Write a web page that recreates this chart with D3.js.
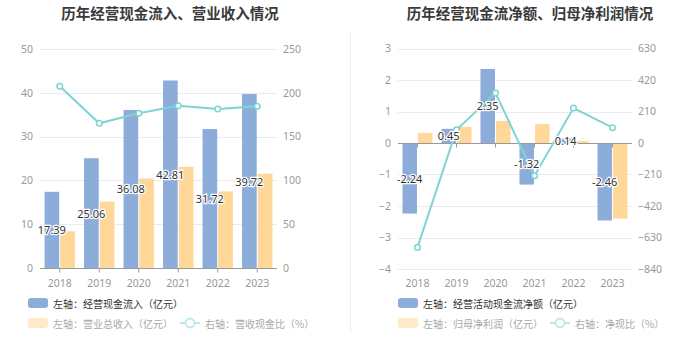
<!DOCTYPE html>
<html><head><meta charset="utf-8">
<script src="https://cdn.jsdelivr.net/npm/d3@7/dist/d3.min.js"></script>
<style>
body{margin:0;background:#fff}
svg{font-family:"Noto Sans CJK SC","Noto Sans",sans-serif;display:block}
</style>
</head><body>
<svg id="c" width="700" height="359"></svg>
<script>
// ---- data ----
const years = ["2018", "2019", "2020", "2021", "2022", "2023"];
const cashInflow = [17.39, 25.06, 36.08, 42.81, 31.72, 39.72];
const revenue = [8.38, 15.17, 20.43, 23.10, 17.48, 21.52];
const cashRevenueRatio = [207.5, 165.2, 176.6, 185.3, 181.5, 184.6];
const netCashFlow = [-2.24, 0.45, 2.35, -1.32, 0.14, -2.46];
const netProfit = [0.32, 0.51, 0.70, 0.60, 0.06, -2.40];
const cashProfitRatio = [-696, 88.7, 333, -218, 233, 102];
const leftTicks1 = [0, 10, 20, 30, 40, 50];
const rightTicks1 = [0, 50, 100, 150, 200, 250];
const leftTicks2 = [-4, -3, -2, -1, 0, 1, 2, 3];
const rightTicks2 = [-840, -630, -420, -210, 0, 210, 420, 630];
const titles = ["历年经营现金流入、营业收入情况", "历年经营现金流净额、归母净利润情况"];
const legend1 = ["左轴：经营现金流入（亿元）", "左轴：营业总收入（亿元）", "右轴：营收现金比（%）"];
const legend2 = ["左轴：经营活动现金流净额（亿元）", "左轴：归母净利润（亿元）", "右轴：净现比（%）"];

const BLUE = "#8cacda", YEL = "#ffd899", TEAL = "#7ed4d4";
const svg = d3.select("#c");

svg.append("line").attr("x1", 350.5).attr("x2", 350.5).attr("y1", 33).attr("y2", 333)
  .attr("stroke", "#eeeeee");

function panel(cfg) {
  const g = svg.append("g");
  const x = d3.scaleBand().domain(years).range([cfg.x0, cfg.x1]);
  const x1 = d3.scaleBand().domain([0, 1]).range([x.bandwidth() * 0.115, x.bandwidth() * 0.885]).paddingInner(0.07);
  const yL = d3.scaleLinear().domain(cfg.ldom).range([cfg.yb, cfg.yt]);
  const yR = d3.scaleLinear().domain(cfg.rdom).range([cfg.yb, cfg.yt]);

  // title
  g.append("text").attr("x", cfg.tx).attr("y", 12).attr("text-anchor", "middle")
    .attr("dominant-baseline", "central").attr("font-size", 14.5).attr("font-weight", "bold")
    .attr("fill", "#3a3a3a").text(cfg.title);

  // grid
  g.selectAll(".grid").data(cfg.lt).join("line")
    .attr("x1", cfg.x0).attr("x2", cfg.x1)
    .attr("y1", d => Math.round(yL(d)) + 0.5).attr("y2", d => Math.round(yL(d)) + 0.5)
    .attr("stroke", "#e6ebf4").attr("stroke-width", 1);

  // left axis
  const la = g.append("g").attr("transform", `translate(${cfg.x0},0)`)
    .call(d3.axisLeft(yL).tickValues(cfg.lt).tickSize(0).tickPadding(7).tickFormat(d3.format("d")));
  la.select(".domain").remove();
  la.selectAll("text").attr("fill", "#999").attr("font-size", 10.5).attr("font-family", "'Noto Sans',sans-serif");
  const ra = g.append("g").attr("transform", `translate(${cfg.x1},0)`)
    .call(d3.axisRight(yR).tickValues(cfg.rt).tickSize(0).tickPadding(6).tickFormat(d3.format("d")));
  ra.select(".domain").remove();
  ra.selectAll("text").attr("fill", "#999").attr("font-size", 10.5).attr("font-family", "'Noto Sans',sans-serif");

  // bars
  const bars = g.append("g");
  cfg.s1.forEach((v, i) => {
    bars.append("rect").attr("x", x(years[i]) + x1(0)).attr("width", x1.bandwidth())
      .attr("y", Math.min(yL(v), yL(0))).attr("height", Math.abs(yL(v) - yL(0))).attr("fill", BLUE);
  });
  cfg.s2.forEach((v, i) => {
    bars.append("rect").attr("x", x(years[i]) + x1(1)).attr("width", x1.bandwidth())
      .attr("y", Math.min(yL(v), yL(0))).attr("height", Math.abs(yL(v) - yL(0))).attr("fill", YEL);
  });

  // x axis line at zero
  const xa = g.append("g").attr("transform", `translate(0,${Math.round(yL(0)) + 0.5})`)
    .call(d3.axisBottom(x).tickSize(4).tickSizeOuter(0).tickFormat(""));
  xa.select(".domain").attr("stroke", "#999").attr("d", `M${cfg.x0},0H${cfg.x1}`);
  xa.selectAll(".tick line").attr("stroke", "#999");
  // x labels at bottom
  g.selectAll(".xl").data(years).join("text")
    .attr("x", d => x(d) + x.bandwidth() / 2).attr("y", 283)
    .attr("text-anchor", "middle").attr("dominant-baseline", "central")
    .attr("font-size", 10.5).attr("fill", "#999").attr("font-family", "'Noto Sans',sans-serif").text(d => d);

  // line
  const cx = i => x(years[i]) + x.bandwidth() / 2;
  g.append("path").datum(cfg.s3)
    .attr("d", d3.line().x((d, i) => cx(i)).y(d => yR(d)))
    .attr("fill", "none").attr("stroke", TEAL).attr("stroke-width", 2);
  g.selectAll(".pt").data(cfg.s3).join("circle")
    .attr("cx", (d, i) => cx(i)).attr("cy", d => yR(d)).attr("r", 2.8)
    .attr("fill", "#fff").attr("stroke", TEAL).attr("stroke-width", 1.5);

  // labels
  g.selectAll(".lab").data(cfg.s1).join("text")
    .attr("x", (d, i) => x(years[i]) + x1(0) + x1.bandwidth() / 2)
    .attr("y", d => (yL(d) + yL(0)) / 2)
    .attr("text-anchor", "middle").attr("dominant-baseline", "central")
    .attr("font-size", 11).attr("fill", "#333").attr("font-family", "'Noto Sans',sans-serif")
    .attr("stroke", "#fff").attr("stroke-width", 2.5).attr("paint-order", "stroke")
    .text(d => d.toFixed(2));

  // legend
  const L = g.append("g");
  const lx = cfg.lx;
  L.append("rect").attr("x", lx).attr("y", 298).attr("width", 20).attr("height", 10).attr("rx", 3).attr("fill", BLUE);
  L.append("text").attr("x", lx + 25).attr("y", 303).attr("dominant-baseline", "central")
    .attr("font-size", 10).attr("fill", "#333").text(cfg.leg[0]);
  L.append("rect").attr("x", lx).attr("y", 318).attr("width", 20).attr("height", 10).attr("rx", 3).attr("fill", "#ffe9c9");
  const t2 = L.append("text").attr("x", lx + 25).attr("y", 323).attr("dominant-baseline", "central")
    .attr("font-size", 10).attr("fill", "#a8a8a8").text(cfg.leg[1]);
  const lx2 = cfg.lx2;
  L.append("line").attr("x1", lx2).attr("x2", lx2 + 20).attr("y1", 323).attr("y2", 323)
    .attr("stroke", "#b9e9e9").attr("stroke-width", 2);
  L.append("circle").attr("cx", lx2 + 10).attr("cy", 323).attr("r", 4.5).attr("fill", "#fff")
    .attr("stroke", "#b9e9e9").attr("stroke-width", 1.8);
  L.append("text").attr("x", lx2 + 25).attr("y", 323).attr("dominant-baseline", "central")
    .attr("font-size", 10).attr("fill", "#a8a8a8").text(cfg.leg[2]);
}

panel({x0: 40, x1: 277, yt: 49, yb: 268, ldom: [0, 50], rdom: [0, 250], lt: leftTicks1, rt: rightTicks1,
  s1: cashInflow, s2: revenue, s3: cashRevenueRatio, title: titles[0], tx: 170, leg: legend1, lx: 28, lx2: 180});
panel({x0: 398, x1: 632, yt: 48.5, yb: 269, ldom: [-4, 3], rdom: [-840, 630], lt: leftTicks2, rt: rightTicks2,
  s1: netCashFlow, s2: netProfit, s3: cashProfitRatio, title: titles[1], tx: 530, leg: legend2, lx: 398, lx2: 550});
</script>
</body></html>
